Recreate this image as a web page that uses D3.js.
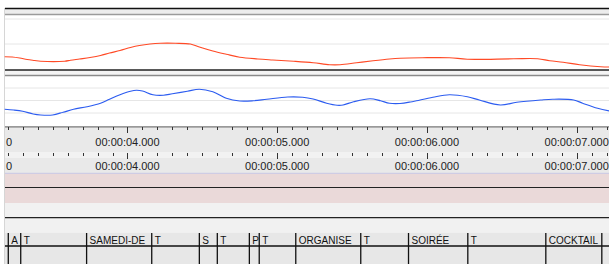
<!DOCTYPE html>
<html>
<head>
<meta charset="utf-8">
<script src="https://cdn.jsdelivr.net/npm/d3@7"></script>
<style>
  body { margin: 0; background: #fff; }
  svg { display: block; font-family: "Liberation Sans", Arial, sans-serif; }
</style>
</head>
<body>
<div id="chart"></div>
<script>
"use strict";

// time window shown (seconds)
let timeWindow = [3.182, 7.216];

// upper track (red)
let redTimes = [3.18, 3.23, 3.28, 3.33, 3.38, 3.42, 3.58, 3.62, 3.68, 3.75, 3.82, 3.88, 3.95, 4.02, 4.08, 4.15,
  4.22, 4.32, 4.42, 4.48, 4.57, 4.66, 4.75, 4.87, 4.97, 5.11, 5.24, 5.35, 5.42, 5.53, 5.64, 5.75, 5.82, 5.97,
  6.15, 6.27, 6.58, 6.74, 6.82, 6.91, 7.02, 7.16, 7.22];
let redValues = [0.49, 0.48, 0.44, 0.38, 0.34, 0.31, 0.31, 0.35, 0.40, 0.46, 0.54, 0.64, 0.74, 0.86, 0.94, 1.00,
  1.03, 1.03, 1.00, 0.88, 0.72, 0.59, 0.47, 0.40, 0.36, 0.31, 0.25, 0.17, 0.17, 0.25, 0.33, 0.40, 0.43, 0.45,
  0.45, 0.39, 0.41, 0.41, 0.33, 0.27, 0.17, 0.09, 0.08];

// lower track (blue)
let blueTimes = [3.18, 3.24, 3.30, 3.37, 3.42, 3.50, 3.57, 3.64, 3.73, 3.82, 3.88, 3.95, 4.02, 4.06, 4.10, 4.17,
  4.24, 4.30, 4.40, 4.48, 4.57, 4.66, 4.75, 4.84, 4.93, 5.07, 5.17, 5.24, 5.33, 5.40, 5.44, 5.51, 5.62, 5.69,
  5.75, 5.82, 5.89, 5.93, 6.04, 6.15, 6.27, 6.35, 6.49, 6.60, 6.76, 6.84, 6.98, 7.04, 7.14, 7.22];
let blueValues = [1.30, 1.24, 1.14, 0.92, 0.84, 0.84, 1.06, 1.30, 1.50, 1.78, 2.10, 2.46, 2.74, 2.82, 2.76, 2.46,
  2.42, 2.54, 2.74, 2.90, 2.70, 2.18, 1.96, 1.98, 2.10, 2.28, 2.26, 2.12, 1.78, 1.62, 1.64, 1.90, 2.14, 1.98,
  1.78, 1.76, 1.88, 1.98, 2.26, 2.46, 2.30, 2.04, 1.64, 1.86, 2.04, 2.10, 2.04, 1.78, 1.38, 1.16];

// axis labels
let majorTicks = [4, 5, 6, 7];
let majorLabels = ["00:00:04.000", "00:00:05.000", "00:00:06.000", "00:00:07.000"];
let startLabel = "0";

// interval tier
let boundaries = [3.204, 3.287, 3.727, 4.162, 4.480, 4.600, 4.814, 4.880, 5.124, 5.558, 5.877, 6.273, 6.794, 7.168];
let intervalLabels = ["A", "T", "SAMEDI-DE", "T", "S", "T", "P", "T", "ORGANISE", "T", "SOIRÉE", "T", "COCKTAIL"];

let width = 609, height = 264;

let svg = d3.select("#chart").append("svg")
  .attr("width", width)
  .attr("height", height);

let x = d3.scaleLinear().domain(timeWindow).range([5, width]);

function hline(y, color, w) {
  svg.append("line")
    .attr("x1", 5).attr("x2", width)
    .attr("y1", y).attr("y2", y)
    .style("stroke", color).style("stroke-width", w);
}

function band(y0, y1, color) {
  svg.append("rect")
    .attr("x", 5).attr("y", y0)
    .attr("width", width - 5).attr("height", y1 - y0)
    .style("fill", color);
}

// backgrounds
band(8, 15, "#ececec");
band(70, 76, "#f4f4f4");
band(127, 152, "#e9e9e9");
band(152, 158, "#f2f2f2");
band(158, 173, "#e9e9e9");
band(173, 203, "#ead9d9");
band(203, 232.5, "#f1f1f1");
band(232.5, height, "#e7e7e7");

// left border
svg.append("line")
  .attr("x1", 4.5).attr("x2", 4.5).attr("y1", 8).attr("y2", height)
  .style("stroke", "#d6d6d6").style("stroke-width", 1);

// ---- upper track ----
let yRed = d3.scaleLinear().domain([0, 2]).range([69, 19]);
[1, 2].forEach(v => hline(yRed(v), "#e6e6e6", 1));

svg.append("path")
  .datum(d3.zip(redTimes, redValues))
  .attr("d", d3.line().x(d => x(d[0])).y(d => yRed(d[1])).curve(d3.curveCatmullRom.alpha(0.5)))
  .style("fill", "none")
  .style("stroke", "#ff4a26")
  .style("stroke-width", 1.2);

// ---- lower track ----
let yBlue = d3.scaleLinear().domain([0, 3]).range([125.5, 88]);
[1, 2, 3].forEach(v => hline(yBlue(v), "#e6e6e6", 1));

svg.append("path")
  .datum(d3.zip(blueTimes, blueValues))
  .attr("d", d3.line().x(d => x(d[0])).y(d => yBlue(d[1])).curve(d3.curveCatmullRom.alpha(0.5)))
  .style("fill", "none")
  .style("stroke", "#2c5cf0")
  .style("stroke-width", 1.2);

// track separators
hline(8.5, "#111", 1.5);
hline(14.5, "#9a9a9a", 1.5);
hline(70, "#222", 1.5);
hline(75.5, "#8a8a8a", 1.5);
hline(126.8, "#777", 1.2);

// ---- time axes ----
let minorTicks = d3.range(32, 73).map(d => d / 10);

function drawAxisRow(tickTop, baseline) {
  let g = svg.append("g");
  g.selectAll(".tick")
    .data(minorTicks)
    .enter().append("line")
    .attr("class", "tick")
    .attr("x1", d => Math.round(x(d)) + 0.5)
    .attr("x2", d => Math.round(x(d)) + 0.5)
    .attr("y1", tickTop)
    .attr("y2", d => Math.abs(d - Math.round(d)) < 1e-6 ? tickTop + 6 : tickTop + 3)
    .style("stroke", "#333")
    .style("stroke-width", 1);

  g.selectAll(".lbl")
    .data(majorTicks)
    .enter().append("text")
    .attr("class", "lbl")
    .attr("x", d => x(d))
    .attr("y", baseline)
    .attr("text-anchor", "middle")
    .style("font-size", "11px")
    .style("fill", "#222")
    .text((d, i) => majorLabels[i]);

  g.append("text")
    .attr("x", 6)
    .attr("y", baseline)
    .style("font-size", "11px")
    .style("fill", "#222")
    .text(startLabel);
}

drawAxisRow(127, 146);
drawAxisRow(153, 170);

hline(173.3, "#c9c9e6", 1);
hline(187.5, "#222", 1.2);
hline(217.7, "#222", 1.2);

// ---- interval tier ----
hline(246, "#111", 1.3);

svg.selectAll(".boundary")
  .data(boundaries)
  .enter().append("line")
  .attr("class", "boundary")
  .attr("x1", d => x(d)).attr("x2", d => x(d))
  .attr("y1", 233).attr("y2", height)
  .style("stroke", "#111")
  .style("stroke-width", 1.3);

svg.selectAll(".interval")
  .data(intervalLabels)
  .enter().append("text")
  .attr("class", "interval")
  .attr("x", (d, i) => x(boundaries[i]) + 3)
  .attr("y", 243.5)
  .style("font-size", "10px")
  .style("fill", "#111")
  .text(d => d);
</script>
</body>
</html>
